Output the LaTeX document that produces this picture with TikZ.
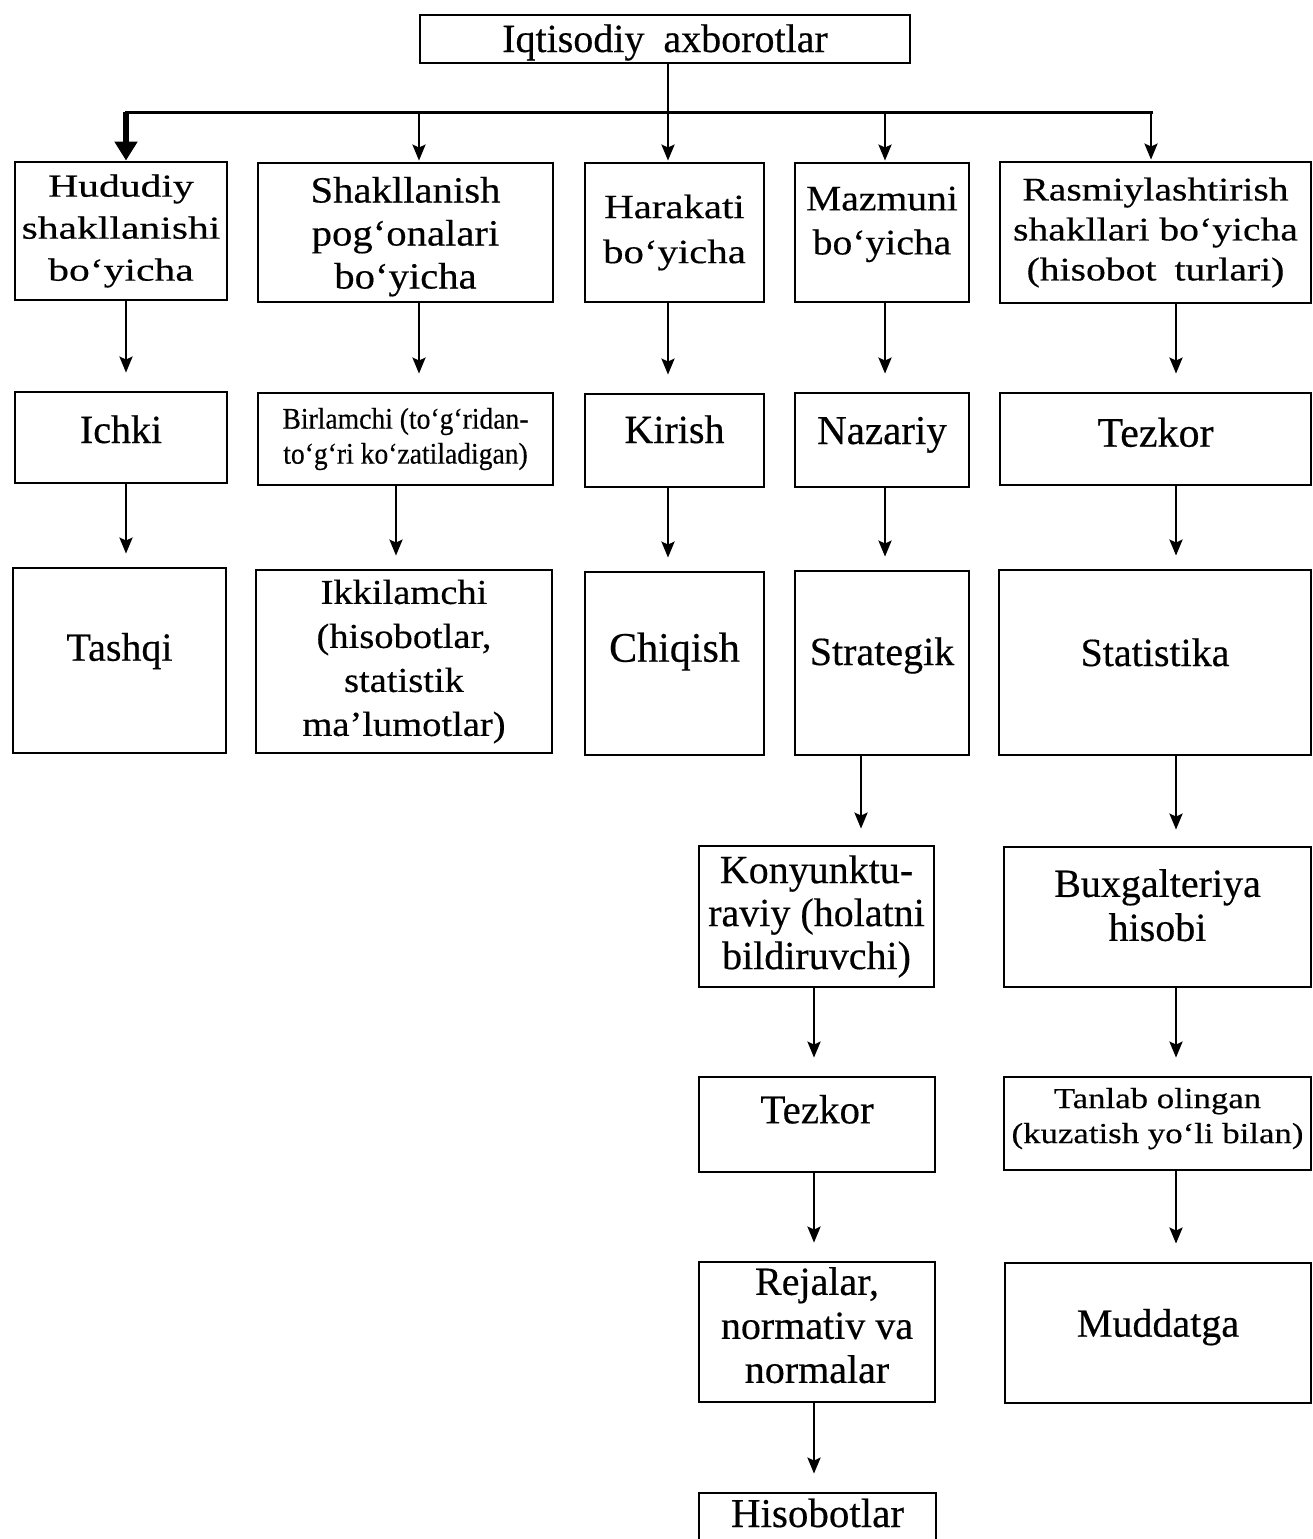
\documentclass[tikz,border=0pt]{standalone}
\usepackage{fontspec}
\setmainfont{Liberation Serif}[FakeBold=0.4]
\newfontfamily\serifnarrow{Liberation Serif}[FakeStretch=0.92,FakeBold=0.4]
\newfontfamily\serifwide{Liberation Serif}[FakeStretch=1.1,FakeBold=0.4]
\newfontfamily\serifwider{Liberation Serif}[FakeStretch=1.2,FakeBold=0.4]
\newfontfamily\serifwidest{Liberation Serif}[FakeStretch=1.3,FakeBold=0.4]
\usetikzlibrary{arrows.meta}
% extra depth under / height above a text block, to place it inside its box
\newcommand\txtlift[1]{\rule[-#1pt]{0pt}{0pt}}
\newcommand\txtdrop[1]{\rule{0pt}{#1pt}}

\begin{document}
\begin{tikzpicture}[x=1pt,y=-1pt,
  box/.style={draw, line width=2.8pt, align=center, inner sep=0pt},
  sz/.style n args={3}{font={#1\fontsize{#2}{#3}\selectfont}},
  one/.style n args={3}{font={\fontsize{#1}{#1}\selectfont}, text height=#2pt, text depth=#3pt},
  flow/.style={line width=2.8pt, -{Stealth[length=16pt,width=13pt,inset=3pt]}, shorten >=#1},
  flow/.default=18pt,
  bigflow/.style={line width=6pt, -{Triangle[length=19pt,width=22pt]}},
  busline/.style={line width=3pt, line cap=rect}
]
\useasboundingbox (0,0) rectangle (1313,1539);
\clip (0,0) rectangle (1313,1539);

% root
\node[box, minimum width=490pt, minimum height=48pt, one={40}{28}{2}] (top) at (665,39) {Iqtisodiy\hspace{19pt}axborotlar};

% first level
\node[box, minimum width=212pt, minimum height=138pt, sz={\serifwidest}{32}{42}] (hud) at (121,231) {Hududiy\\shakllanishi\\bo‘yicha};
\node[box, minimum width=295pt, minimum height=139pt, sz={\serifwide}{37}{43}] (shak) at (405.5,232.5) {\txtdrop{34}Shakllanish\\pog‘onalari\\bo‘yicha};
\node[box, minimum width=179pt, minimum height=139pt, sz={\serifwider}{34}{45}] (hara) at (674.5,232.5) {Harakati\\bo‘yicha};
\node[box, minimum width=174pt, minimum height=139pt, sz={\serifwide}{36}{44}] (mazm) at (882,232.5) {Mazmuni\\bo‘yicha\txtlift{24}};
\node[box, minimum width=311pt, minimum height=141pt, sz={\serifwider}{33}{40}] (rasm) at (1155.5,232.5) {Rasmiylashtirish\\shakllari bo‘yicha\\(hisobot\hspace{18pt}turlari)};

% second level
\node[box, minimum width=212pt, minimum height=91pt, one={40}{28}{17}] (ichki) at (121,437.5) {Ichki};
\node[box, minimum width=295pt, minimum height=92pt, sz={\serifnarrow}{30}{35}] (birl) at (405.5,439) {Birlamchi (to‘g‘ridan-\\to‘g‘ri ko‘zatiladigan)};
\node[box, minimum width=179pt, minimum height=93pt, one={40}{28}{23}] (kiri) at (674.5,440.5) {Kirish};
\node[box, minimum width=174pt, minimum height=94pt, one={41}{28.7}{20.7}] (naza) at (882,440) {Nazariy};
\node[box, minimum width=311pt, minimum height=92pt, one={42}{29.4}{14}] (tezk) at (1155.5,439) {Tezkor};

% third level
\node[box, minimum width=213pt, minimum height=185pt, one={40}{28}{27.6}] (tash) at (119.5,660.5) {Tashqi};
\node[box, minimum width=296pt, minimum height=183pt, sz={\serifwide}{35}{44}] (ikki) at (404,661.5) {Ikkilamchi\\(hisobotlar,\\statistik\\ma’lumotlar)};
\node[box, minimum width=179pt, minimum height=183pt, one={42}{29.4}{33}] (chiq) at (674.5,663.5) {Chiqish};
\node[box, minimum width=174pt, minimum height=184pt, one={40}{28}{24}] (stra) at (882,663) {Strategik};
\node[box, minimum width=312pt, minimum height=185pt, one={40}{28}{21}] (stat) at (1155,662.5) {Statistika};

% lower chains
\node[box, minimum width=235pt, minimum height=141pt, sz={}{40}{43}] (kony) at (816.5,916.5) {Konyunktu-\\raviy (holatni\\bildiruvchi)};
\node[box, minimum width=307pt, minimum height=140pt, sz={}{40}{44}] (buxg) at (1157.5,917) {Buxgalteriya\\hisobi\txtlift{24}};
\node[box, minimum width=236pt, minimum height=95pt, one={41}{28.7}{31}] (tez2) at (817,1124.5) {Tezkor};
\node[box, minimum width=307pt, minimum height=93pt, sz={\serifwider}{29}{35}] (tanl) at (1157.5,1123.5) {Tanlab olingan\\(kuzatish yo‘li bilan)\txtlift{16}};
\node[box, minimum width=236pt, minimum height=140pt, sz={}{40}{44}] (reja) at (817,1332) {Rejalar,\\normativ va\\normalar\txtlift{14}};
\node[box, minimum width=306pt, minimum height=140pt, one={40}{28}{20.6}] (mudd) at (1158,1333) {Muddatga};
\node[box, minimum width=237pt, minimum height=67pt, one={41}{28.7}{27.7}] (hiso) at (817.5,1526.5) {Hisobotlar};

% connector columns
\coordinate (bus) at (0,112);
\coordinate (xa) at (126,0);
\coordinate (xb) at (419,0);
\coordinate (xc) at (668,0);
\coordinate (xd) at (885,0);
\coordinate (xe) at (1151,0);
\coordinate (xf) at (1176,0);
\coordinate (xg) at (396,0);
\coordinate (xh) at (861,0);
\coordinate (xi) at (814,0);

% distribution from the root
\draw[busline] (bus -| xa) -- (bus -| xe);
\draw[flow=1pt] (top.south -| xc) -- (hara.north -| xc);
\draw[bigflow] (bus -| xa) -- (hud.north -| xa);
\draw[flow=1pt] (bus -| xb) -- (shak.north -| xb);
\draw[flow=1pt] (bus -| xd) -- (mazm.north -| xd);
\draw[flow=1pt] (bus -| xe) -- (rasm.north -| xe);

% first to second level
\draw[flow] (hud.south -| xa) -- (ichki.north -| xa);
\draw[flow] (shak.south -| xb) -- (birl.north -| xb);
\draw[flow] (hara.south -| xc) -- (kiri.north -| xc);
\draw[flow] (mazm.south -| xd) -- (naza.north -| xd);
\draw[flow] (rasm.south -| xf) -- (tezk.north -| xf);

% second to third level
\draw[flow=13pt] (ichki.south -| xa) -- (tash.north -| xa);
\draw[flow=13pt] (birl.south -| xg) -- (ikki.north -| xg);
\draw[flow=13pt] (kiri.south -| xc) -- (chiq.north -| xc);
\draw[flow=13pt] (naza.south -| xd) -- (stra.north -| xd);
\draw[flow=13pt] (tezk.south -| xf) -- (stat.north -| xf);

% lower chains
\draw[flow=16pt] (stra.south -| xh) -- (kony.north -| xh);
\draw[flow=16pt] (stat.south -| xf) -- (buxg.north -| xf);
\draw[flow] (kony.south -| xi) -- (tez2.north -| xi);
\draw[flow] (buxg.south -| xf) -- (tanl.north -| xf);
\draw[flow] (tez2.south -| xi) -- (reja.north -| xi);
\draw[flow] (tanl.south -| xf) -- (mudd.north -| xf);
\draw[flow] (reja.south -| xi) -- (hiso.north -| xi);
\end{tikzpicture}
\end{document}
